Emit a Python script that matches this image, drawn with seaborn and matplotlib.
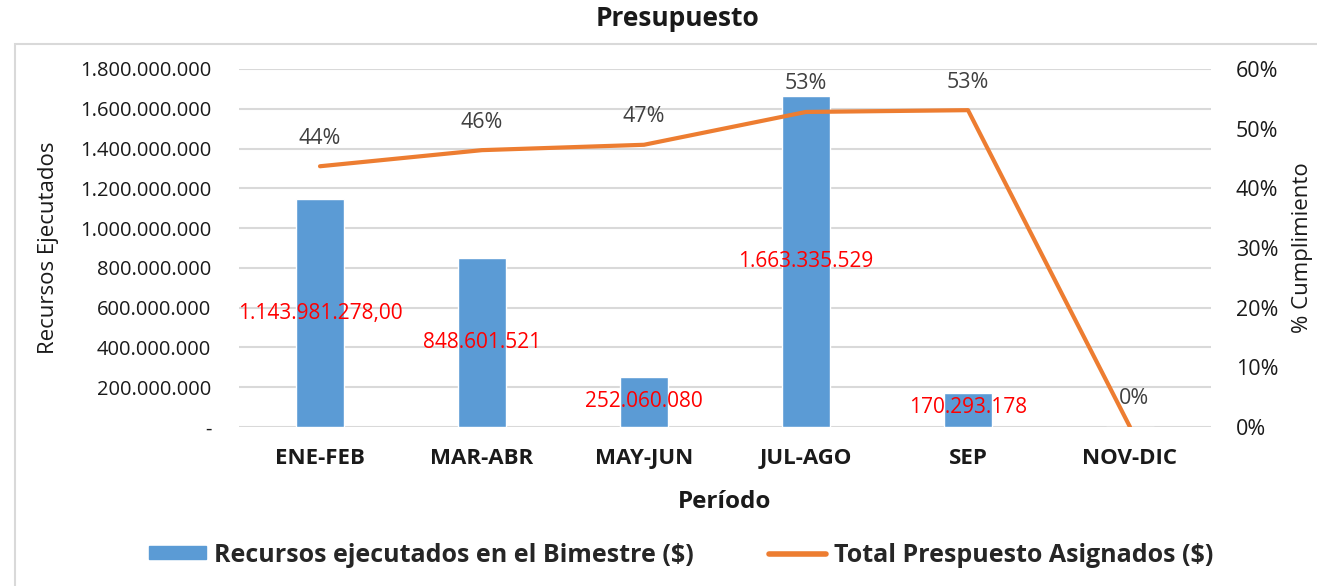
import matplotlib
matplotlib.use("Agg")
import matplotlib.pyplot as plt
import matplotlib.patches as mpatches
from matplotlib.lines import Line2D
import seaborn as sns
import pandas as pd

# Data
periodos = ["ENE-FEB", "MAR-ABR", "MAY-JUN", "JUL-AGO", "SEP", "NOV-DIC"]
recursos = [1143981278.00, 848601521, 252060080, 1663335529, 170293178, 0]
cumplimiento = [0.437, 0.464, 0.473, 0.528, 0.531, 0.0]
etiquetas_recursos = ["1.143.981.278,00", "848.601.521", "252.060.080",
                      "1.663.335.529", "170.293.178", None]
etiquetas_pct = ["44%", "46%", "47%", "53%", "53%", "0%"]
ticks_izq = [0, 200e6, 400e6, 600e6, 800e6, 1000e6, 1200e6, 1400e6, 1600e6, 1800e6]
ticks_der = [0, 0.1, 0.2, 0.3, 0.4, 0.5, 0.6]

AZUL = "#5B9BD5"
NARANJA = "#ED7D31"
TEXTO = "#1a1a1a"
FONT = "Open Sans"

sns.set_theme(style="white")
plt.rcParams["font.family"] = [FONT, "DejaVu Sans"]

df = pd.DataFrame({"Periodo": periodos, "Recursos": recursos, "Cumplimiento": cumplimiento})

fig = plt.figure(figsize=(13.17, 5.86), dpi=100)
ax = fig.add_axes([239 / 1317, 1 - 427 / 586, (1211 - 239) / 1317, (427 - 69) / 586])

# Outer chart frame
fig.patches.append(mpatches.Rectangle((15 / 1317, -0.05), 1.2, 1 - 44 / 586 + 0.05,
                                      transform=fig.transFigure, fill=False,
                                      edgecolor="#d9d9d9", linewidth=1.5, zorder=0))

sns.barplot(data=df, x="Periodo", y="Recursos", color=AZUL, width=0.3,
            saturation=1, ax=ax, zorder=2)
ax.set_xlim(-0.5, 5.5)
ax.set_ylim(0, 1800e6)
ax.set_yticks(ticks_izq)

def fmt_miles(v):
    if v == 0:
        return "-"
    return f"{int(v):,}".replace(",", ".")

ax.set_yticklabels([fmt_miles(v) for v in ticks_izq], fontsize=14.5, color=TEXTO)
ax.grid(axis="y", color="#d9d9d9", linewidth=1.5, zorder=0)
ax.set_axisbelow(True)
for s in ax.spines.values():
    s.set_visible(False)
ax.tick_params(axis="both", length=0)
ax.tick_params(axis="y", pad=20)
ax.tick_params(axis="x", pad=15)
for lbl in ax.get_xticklabels():
    lbl.set_fontweight("bold")
    lbl.set_fontsize(16)
    lbl.set_color(TEXTO)
ax.set_xlabel("Período", fontsize=17.5, fontweight="bold", color=TEXTO, labelpad=15)
ax.set_ylabel("Recursos Ejecutados", fontsize=16, color=TEXTO)
ax.yaxis.set_label_coords((59 - 239) / 972, 0.5)

# Red value labels centred in the bars
for i, (v, t) in enumerate(zip(recursos, etiquetas_recursos)):
    if t is None:
        continue
    ypos = max(v / 2, 100e6)
    ax.text(i, ypos, t, ha="center", va="center", color="#ff0000", fontsize=15, zorder=5)

# Compliance line on secondary axis
ax2 = ax.twinx()
sns.lineplot(data=df, x="Periodo", y="Cumplimiento", sort=False, color=NARANJA,
             linewidth=3.0, ax=ax2, zorder=3)
ax2.set_ylim(0, 0.6)
ax2.set_yticks(ticks_der)
ax2.set_yticklabels([f"{int(round(v * 100))}%" for v in ticks_der], fontsize=15.5, color=TEXTO)
ax2.tick_params(axis="y", length=0, pad=18)
for s in ax2.spines.values():
    s.set_visible(False)
ax2.set_ylabel("% Cumplimiento", fontsize=16, color=TEXTO, rotation=90)
ax2.yaxis.set_label_coords((1292 - 239) / 972, 0.5)
ax2.set_xlim(-0.5, 5.5)

for i, (v, t) in enumerate(zip(cumplimiento, etiquetas_pct)):
    dx = 0 if v > 0 else 4
    ax2.annotate(t, (i, v), xytext=(dx, 28), textcoords="offset pixels",
                 ha="center", va="center", color="#404040", fontsize=15.5)

fig.text(678 / 1317, 1 - 18 / 586, "Presupuesto", ha="center", va="center",
         fontsize=19, fontweight="bold", color=TEXTO)

handles = [mpatches.Patch(color=AZUL), Line2D([0], [0], color=NARANJA, linewidth=4)]
labels = ["Recursos ejecutados en el Bimestre ($)", "Total Prespuesto Asignados ($)"]
fig.legend(handles, labels, loc="center", bbox_to_anchor=(681 / 1317, 1 - 555 / 586), ncol=2,
           frameon=False, prop={"family": FONT, "weight": "bold", "size": 18},
           handlelength=2.3, handleheight=0.45, handletextpad=0.3, columnspacing=3.0)

fig.savefig("out.png", dpi=100)
